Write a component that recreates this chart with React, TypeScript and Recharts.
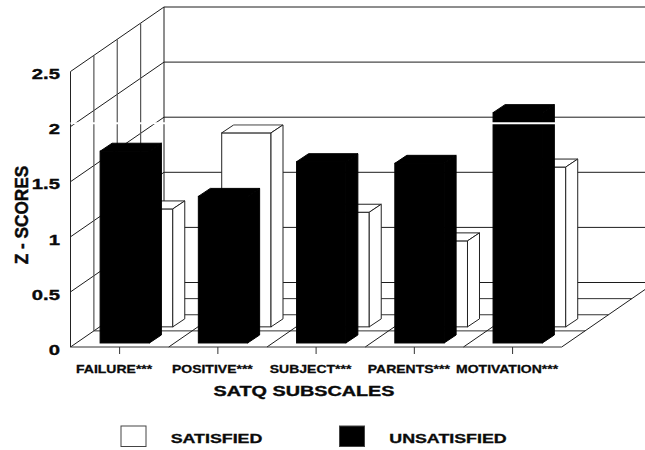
import React from 'react';
import { Bar, BarChart, Customized, Legend, ReferenceArea, XAxis, YAxis } from 'recharts';

const categories = ['FAILURE***', 'POSITIVE***', 'SUBJECT***', 'PARENTS***', 'MOTIVATION***'];
const satisfied = [1.07, 1.76, 1.04, 0.78, 1.45];
const unsatisfied = [1.74, 1.33, 1.645, 1.63, 2.09];
const yTicks = [0, 0.5, 1, 1.5, 2, 2.5];

const rows = categories.map((category, i) => ({
  category,
  satisfied: satisfied[i],
  unsatisfied: unsatisfied[i],
}));

// Front plane of the 3D box, in chart pixels.
const WIDTH = 645;
const HEIGHT = 450;
const LEFT = 70.5;
const RIGHT = 561.7;
const TOP = 71.5;
const BOTTOM = 347;
const DEPTH_X = 93.5;
const DEPTH_Y = 64.5;
const SLOTS = 4;
const BAR_DEPTH_X = 12;
const BAR_DEPTH_Y = 8;
const FONT = '"Liberation Sans", Arial, sans-serif';
const LINE = '#1c1c1c';

const yOf = (v: number) => BOTTOM - (v / 2.5) * (BOTTOM - TOP);

function WideText({ x, y, size, stretch = 1.38, anchor = 'start', rotate = 0, children }: any) {
  return (
    <text
      transform={`translate(${x},${y}) rotate(${rotate}) scale(${stretch},1)`}
      fontFamily={FONT}
      fontWeight="bold"
      fontSize={size}
      textAnchor={anchor}
      fill="#0a0a0a"
      stroke="#0a0a0a"
      strokeWidth={size * 0.025}
    >
      {children}
    </text>
  );
}

function Seg({ x1, y1, x2, y2, stroke = LINE, w = 1 }: any) {
  return <line x1={x1} y1={y1} x2={x2} y2={y2} stroke={stroke} strokeWidth={w} />;
}

// Back wall, left wall and floor of the box.
function Box() {
  const parts: React.ReactNode[] = [];
  yTicks.forEach((v) => {
    const y = yOf(v);
    parts.push(<Seg key={`back${v}`} x1={LEFT + DEPTH_X} y1={y - DEPTH_Y} x2={WIDTH} y2={y - DEPTH_Y} />);
    parts.push(<Seg key={`side${v}`} x1={LEFT} y1={y} x2={LEFT + DEPTH_X} y2={y - DEPTH_Y} />);
  });
  for (let s = 1; s < SLOTS; s++) {
    const dx = (DEPTH_X * s) / SLOTS;
    const dy = (DEPTH_Y * s) / SLOTS;
    parts.push(<Seg key={`wall${s}`} x1={LEFT + dx} y1={TOP - dy} x2={LEFT + dx} y2={BOTTOM - dy} stroke="#555" w={1.2} />);
    parts.push(<Seg key={`floor${s}`} x1={LEFT + dx} y1={BOTTOM - dy} x2={RIGHT + dx} y2={BOTTOM - dy} stroke="#333" />);
  }
  parts.push(<Seg key="backEdge" x1={LEFT + DEPTH_X} y1={TOP - DEPTH_Y} x2={LEFT + DEPTH_X} y2={BOTTOM - DEPTH_Y} />);
  for (let i = 1; i <= categories.length; i++) {
    const x = LEFT + (i * (RIGHT - LEFT)) / categories.length;
    parts.push(<Seg key={`run${i}`} x1={x} y1={BOTTOM} x2={x + DEPTH_X} y2={BOTTOM - DEPTH_Y} />);
  }
  return (
    <g>
      {parts}
      <WideText x={27.5} y={215} size={18.5} stretch={0.93} anchor="middle" rotate={-90}>Z - SCORES</WideText>
      <WideText x={304} y={396} size={15} stretch={1.32} anchor="middle">SATQ SUBSCALES</WideText>
    </g>
  );
}

// Rectangular prism pushed back into the given depth slot.
function Prism({ x, y, width, height, fill, slot, faceLine }: any) {
  const ox = (DEPTH_X / SLOTS) * (slot + 0.25) - 0.25;
  const oy = (DEPTH_Y / SLOTS) * (slot + 0.25);
  const x0 = x + ox;
  const x1 = x0 + width;
  const y0 = y - oy;
  const y1 = y + height - oy;
  const d = BAR_DEPTH_X;
  const e = BAR_DEPTH_Y;
  return (
    <g stroke={faceLine} strokeWidth={1} strokeLinejoin="miter" fill={fill}>
      <rect x={x0} y={y0} width={width} height={height} />
      <polygon points={`${x0},${y0} ${x0 + d},${y0 - e} ${x1 + d},${y0 - e} ${x1},${y0}`} />
      <polygon points={`${x1},${y0} ${x1 + d},${y0 - e} ${x1 + d},${y1 - e} ${x1},${y1}`} />
    </g>
  );
}

function CategoryTick({ x, y, payload }: any) {
  return (
    <WideText x={x - 5.5} y={y + 16.7} size={10} stretch={1.4} anchor="middle">
      {payload.value}
    </WideText>
  );
}

function ValueTick({ x, y, payload }: any) {
  return (
    <WideText x={60} y={y + 7.7} size={15} stretch={1.35} anchor="end">
      {payload.value}
    </WideText>
  );
}

function KeyRow({ payload }: any) {
  const places = [
    { box: 121, text: 170.7 },
    { box: 339.5, text: 389.3 },
  ];
  return (
    <svg width={WIDTH} height={HEIGHT} style={{ position: 'absolute', left: 0, top: 0 }}>
      {(payload ?? []).map((entry: any, i: number) => (
        <g key={entry.value}>
          <rect x={places[i].box} y={426} width={25} height={20.5} fill={entry.color} stroke="#444" strokeWidth={1} />
          <WideText x={places[i].text} y={442.7} size={13} stretch={1.37}>{entry.value}</WideText>
        </g>
      ))}
    </svg>
  );
}

export default function App() {
  return (
    <div style={{ position: 'absolute', left: 0, top: 0, width: WIDTH, height: HEIGHT, background: '#fff' }}>
      <BarChart
        width={WIDTH}
        height={HEIGHT}
        data={rows}
        margin={{ top: TOP, right: WIDTH - RIGHT, bottom: 0, left: 0 }}
        barSize={49.3}
        barGap={-49.3}
      >
        <Customized component={Box} />
        <XAxis
          dataKey="category"
          height={HEIGHT - BOTTOM}
          interval={0}
          tick={CategoryTick}
          tickSize={7}
          stroke="#333"
        />
        <YAxis
          width={LEFT}
          domain={[0, 2.5]}
          ticks={yTicks}
          tick={ValueTick}
          tickLine={false}
          stroke="#222"
        />
        <Legend
          layout="horizontal"
          verticalAlign="middle"
          align="center"
          content={KeyRow}
          wrapperStyle={{ left: 0, top: 0, width: WIDTH, height: HEIGHT, pointerEvents: 'none' }}
        />
        <Bar
          dataKey="satisfied"
          name="SATISFIED"
          fill="#ffffff"
          isAnimationActive={false}
          shape={(p: any) => <Prism {...p} fill="#ffffff" slot={1} faceLine="#222" />}
        />
        <Bar
          dataKey="unsatisfied"
          name="UNSATISFIED"
          fill="#000000"
          isAnimationActive={false}
          shape={(p: any) => <Prism {...p} fill="#000000" slot={0} faceLine="#000" />}
        />
        {/* thin light gap across the wall and the tallest bar */}
        <ReferenceArea y1={2.022} y2={2.039} ifOverflow="visible" fill="#fff" fillOpacity={1} stroke="none" isFront zIndex={900} />
      </BarChart>
    </div>
  );
}
